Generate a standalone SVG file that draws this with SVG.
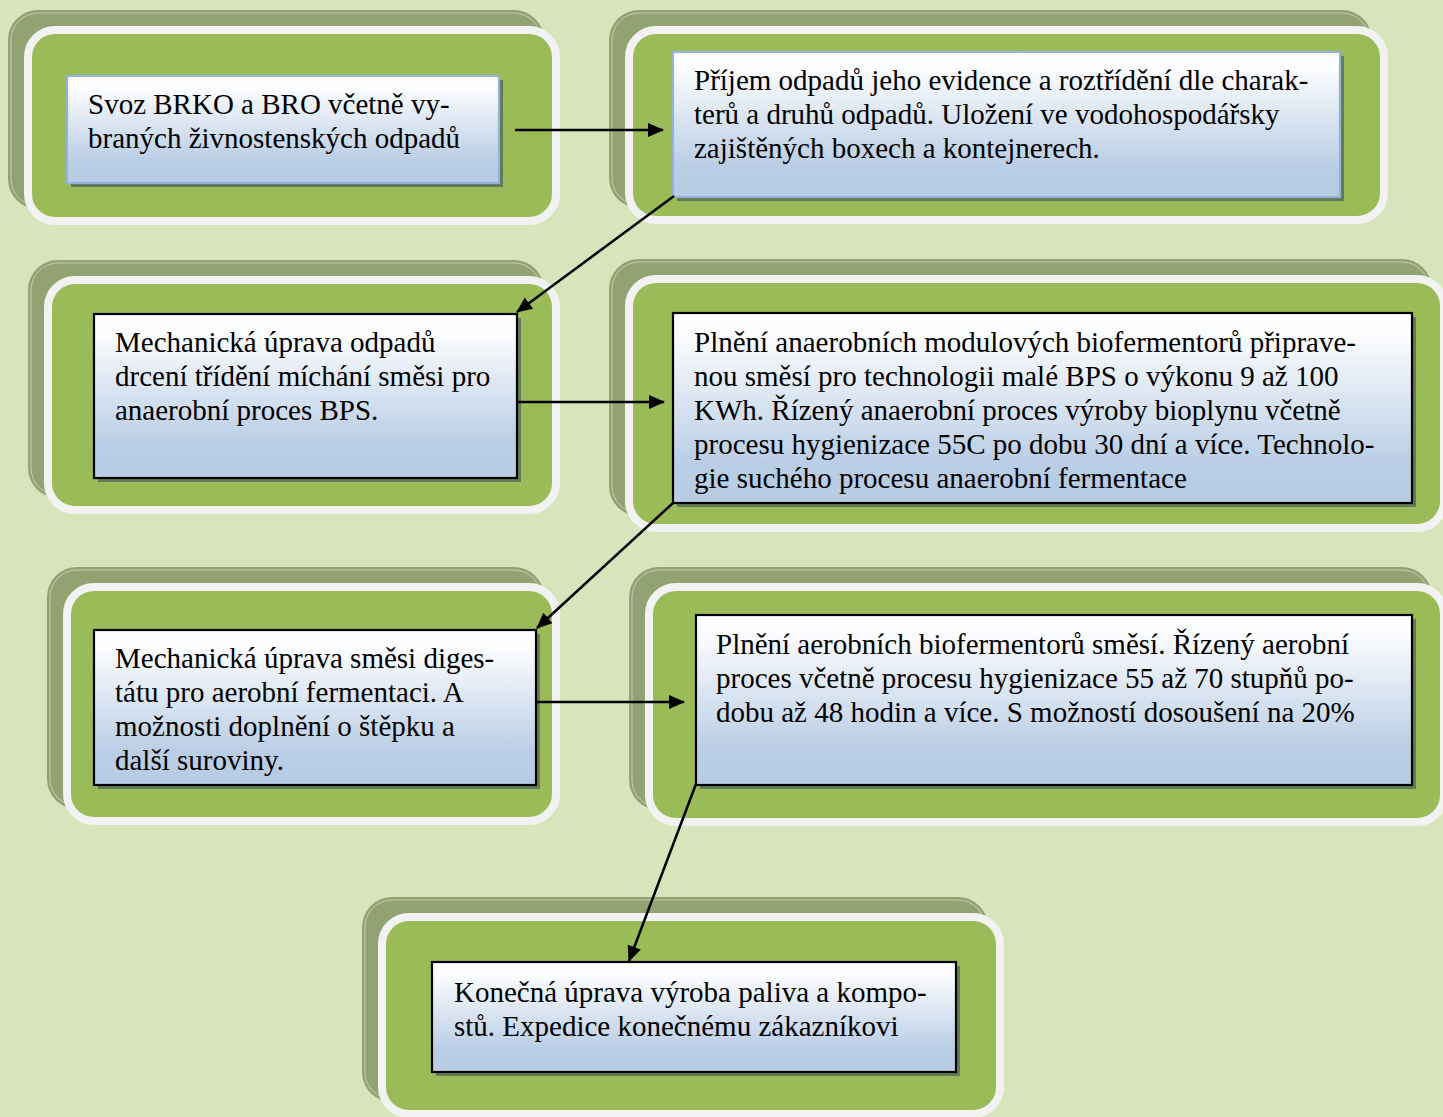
<svg xmlns="http://www.w3.org/2000/svg" width="1443" height="1117" viewBox="0 0 1443 1117">
<defs>
<linearGradient id="tb" x1="0" y1="0" x2="0" y2="1">
<stop offset="0" stop-color="#ffffff"/>
<stop offset="0.12" stop-color="#fbfcfe"/>
<stop offset="0.8" stop-color="#b9cde5"/>
<stop offset="1" stop-color="#b8cce4"/>
</linearGradient>
<marker id="ah" markerUnits="userSpaceOnUse" markerWidth="17" markerHeight="16" refX="15" refY="7" orient="auto">
<path d="M0,0 L16,7 L0,14 z" fill="#000"/>
</marker>
</defs>
<style>
.bg{fill:#d8e4bc}
.sh{fill:#93a272}
.shl{fill:none;stroke:#d9e0c6;stroke-width:1;opacity:0.7}
.pan{fill:#9bbb59;stroke:#f2f2f2;stroke-width:8}
.tsh{fill:#617a5a}
.tbb{fill:url(#tb);stroke:#000;stroke-width:2.2}
.tbl{fill:url(#tb);stroke:#95b3d7;stroke-width:2.2}
text{font-family:"Liberation Serif","Times New Roman",serif;font-size:29px;fill:#000}
.cn{stroke:#000;stroke-width:2.5;fill:none;marker-end:url(#ah)}
</style>
<rect class="bg" x="0" y="0" width="1443" height="1117"/>

<g id="node1">
<rect class="sh" x="8" y="10" width="536" height="199" rx="30"/>
<rect class="shl" x="11" y="13" width="530" height="193" rx="27"/>
<rect class="pan" x="28" y="30" width="528" height="191" rx="27"/>
<rect class="tsh" x="71" y="80" width="432" height="107"/>
<rect class="tbl" x="67" y="76" width="432" height="107"/>
<text x="88" y="114">Svoz BRKO a BRO včetně vy-</text>
<text x="88" y="148">braných živnostenských odpadů</text>
</g>

<g id="node2">
<rect class="sh" x="609" y="10" width="763" height="198" rx="30"/>
<rect class="shl" x="612" y="13" width="757" height="192" rx="27"/>
<rect class="pan" x="629" y="30" width="755" height="190" rx="27"/>
<rect class="tsh" x="677" y="56" width="667" height="145"/>
<rect class="tbl" x="673" y="52" width="667" height="145"/>
<text x="694" y="90">Příjem odpadů jeho evidence a roztřídění dle charak-</text>
<text x="694" y="124">terů a druhů odpadů. Uložení ve vodohospodářsky</text>
<text x="694" y="158">zajištěných boxech a kontejnerech.</text>
</g>

<g id="node3">
<rect class="sh" x="28" y="260" width="516" height="238" rx="30"/>
<rect class="shl" x="31" y="263" width="510" height="232" rx="27"/>
<rect class="pan" x="48" y="280" width="508" height="230" rx="27"/>
<rect class="tsh" x="98" y="318" width="423" height="164"/>
<rect class="tbb" x="94" y="314" width="423" height="164"/>
<text x="115" y="352">Mechanická úprava odpadů</text>
<text x="115" y="386">drcení třídění míchání směsi pro</text>
<text x="115" y="420">anaerobní proces BPS.</text>
</g>

<g id="node4">
<rect class="sh" x="609" y="259" width="823" height="257" rx="30"/>
<rect class="shl" x="612" y="262" width="817" height="251" rx="27"/>
<rect class="pan" x="629" y="279" width="815" height="249" rx="27"/>
<rect class="tsh" x="677" y="317" width="739" height="190"/>
<rect class="tbb" x="673" y="313" width="739" height="190"/>
<text x="694" y="352">Plnění anaerobních modulových biofermentorů připrave-</text>
<text x="694" y="386">nou směsí pro technologii malé BPS o výkonu 9 až 100</text>
<text x="694" y="420">KWh. Řízený anaerobní proces výroby bioplynu včetně</text>
<text x="694" y="454">procesu hygienizace 55C po dobu 30 dní a více. Technolo-</text>
<text x="694" y="488">gie suchého procesu anaerobní fermentace</text>
</g>

<g id="node5">
<rect class="sh" x="47" y="567" width="497" height="242" rx="30"/>
<rect class="shl" x="50" y="570" width="491" height="236" rx="27"/>
<rect class="pan" x="67" y="587" width="489" height="234" rx="27"/>
<rect class="tsh" x="98" y="634" width="442" height="155"/>
<rect class="tbb" x="94" y="630" width="442" height="155"/>
<text x="115" y="668">Mechanická úprava směsi diges-</text>
<text x="115" y="702">tátu pro aerobní fermentaci. A</text>
<text x="115" y="736">možnosti doplnění o štěpku a</text>
<text x="115" y="770">další suroviny.</text>
</g>

<g id="node6">
<rect class="sh" x="629" y="567" width="803" height="243" rx="30"/>
<rect class="shl" x="632" y="570" width="797" height="237" rx="27"/>
<rect class="pan" x="649" y="587" width="795" height="235" rx="27"/>
<rect class="tsh" x="700" y="619" width="716" height="170"/>
<rect class="tbb" x="696" y="615" width="716" height="170"/>
<text x="716" y="654">Plnění aerobních biofermentorů směsí. Řízený aerobní</text>
<text x="716" y="688">proces včetně procesu hygienizace 55 až 70 stupňů po-</text>
<text x="716" y="722">dobu až 48 hodin a více. S možností dosoušení na 20%</text>
</g>

<g id="node7">
<rect class="sh" x="362" y="897" width="626" height="205" rx="30"/>
<rect class="shl" x="365" y="900" width="620" height="199" rx="27"/>
<rect class="pan" x="382" y="917" width="618" height="197" rx="27"/>
<rect class="tsh" x="436" y="966" width="524" height="110"/>
<rect class="tbb" x="432" y="962" width="524" height="110"/>
<text x="454" y="1002">Konečná úprava výroba paliva a kompo-</text>
<text x="454" y="1036">stů. Expedice konečnému zákazníkovi</text>
</g>

<g id="connectors">
<line class="cn" x1="515" y1="130" x2="663" y2="130"/>
<line class="cn" x1="674" y1="196" x2="517" y2="312"/>
<line class="cn" x1="517" y1="402" x2="664" y2="402"/>
<line class="cn" x1="673" y1="503" x2="537" y2="628"/>
<line class="cn" x1="537" y1="702" x2="684" y2="702"/>
<line class="cn" x1="696" y1="784" x2="629" y2="961"/>
</g>
</svg>
